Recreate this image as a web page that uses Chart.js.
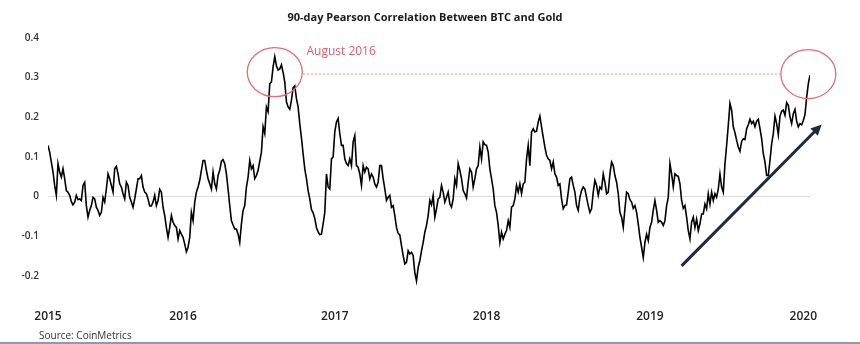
<!DOCTYPE html>
<html>
<head>
<meta charset="utf-8">
<script src="https://cdn.jsdelivr.net/npm/chart.js@4.4.1/dist/chart.umd.min.js"></script>
<style>
  html, body { margin: 0; padding: 0; background: #fff; }
  #wrap { width: 860px; height: 344px; position: relative; }
</style>
</head>
<body>
<div id="wrap"><canvas id="chart"></canvas></div>
<script>
// ─────────────────────────────────────────────
// Data (one sample ≈ every few days)
// ─────────────────────────────────────────────
const corrValues = [
  0.129,0.112,0.087,0.062,0.028,0.003,0.083,0.062,0.049,0.070,0.045,0.015,0.011,0.003,-0.013,-0.021,-0.014,0.003,-0.008,-0.006,-0.010,0.028,0.036,-0.023,-0.052,-0.035,-0.023,-0.002,-0.006,-0.027,-0.035,-0.048,-0.040,-0.002,-0.014,0.019,0.057,0.045,0.028,0.011,0.070,0.076,0.057,0.032,0.024,0.007,-0.006,0.036,0.028,-0.002,-0.014,-0.027,-0.006,0.019,0.045,0.045,
  0.053,0.024,0.011,0.007,-0.006,-0.024,-0.024,-0.014,0.003,-0.023,-0.010,0.018,0.011,-0.027,-0.048,-0.078,-0.103,-0.078,-0.048,-0.065,-0.073,-0.078,-0.107,-0.086,-0.095,-0.103,-0.120,-0.139,-0.128,-0.103,-0.040,-0.061,-0.014,0.011,0.024,0.041,0.066,0.091,0.091,0.066,0.045,0.032,0.019,0.062,0.032,0.019,0.053,0.066,0.089,0.093,0.083,0.057,0.019,-0.023,-0.061,-0.072,-0.082,
  -0.082,-0.095,-0.116,-0.069,-0.035,-0.023,0.024,0.049,0.091,0.070,0.078,0.045,0.053,0.066,0.089,0.112,0.176,0.159,0.226,0.214,0.285,0.289,0.327,0.353,0.330,0.319,0.322,0.332,0.313,0.289,0.239,0.226,0.220,0.243,0.274,0.279,0.247,0.226,0.184,0.148,0.108,0.070,0.045,0.015,-0.006,-0.033,-0.041,-0.055,-0.078,-0.089,-0.096,-0.095,-0.069,-0.040,0.057,0.024,0.019,0.095,
  0.100,0.163,0.188,0.197,0.159,0.129,0.129,0.095,0.083,0.078,0.095,0.078,0.138,0.154,0.078,0.074,0.057,0.028,0.078,0.062,0.074,0.070,0.045,0.057,0.049,0.032,0.024,0.036,0.078,0.078,0.045,0.019,-0.010,-0.002,0.003,-0.027,-0.023,-0.048,-0.078,-0.093,-0.097,-0.124,-0.149,-0.170,-0.166,-0.137,-0.145,-0.141,-0.149,-0.192,-0.213,-0.179,-0.162,-0.137,-0.116,-0.090,-0.073,
  -0.048,-0.010,-0.021,0.003,-0.052,-0.031,-0.006,-0.002,0.028,0.011,-0.014,-0.002,0.011,-0.019,-0.027,-0.006,0.045,0.028,0.083,0.066,0.045,0.015,0.007,-0.004,0.036,0.070,0.062,0.024,0.045,0.070,0.078,0.125,0.095,0.138,0.131,0.129,0.112,0.070,0.045,0.019,-0.023,-0.040,-0.073,-0.116,-0.090,-0.107,-0.095,-0.086,-0.061,-0.078,-0.027,-0.023,-0.006,0.028,0.011,0.032,0.007,0.032,
  0.036,0.095,0.129,0.078,0.163,0.171,0.163,0.165,0.188,0.203,0.176,0.150,0.125,0.104,0.095,0.091,0.070,0.087,0.057,0.049,0.028,0.032,-0.006,-0.031,-0.023,-0.021,0.011,0.045,0.049,0.028,0.011,-0.023,-0.035,-0.002,0.015,0.024,0.019,-0.002,-0.023,-0.040,-0.031,0.011,0.041,0.028,0.003,0.024,0.019,0.057,0.036,0.007,0.011,0.057,0.087,0.078,0.053,0.036,0.007,-0.040,
  -0.052,-0.078,-0.031,0.011,0.007,-0.008,-0.014,-0.030,-0.023,-0.040,-0.069,-0.103,-0.128,-0.154,-0.116,-0.095,-0.111,-0.078,-0.065,-0.035,-0.010,-0.035,-0.065,-0.061,-0.065,-0.073,-0.061,-0.023,-0.002,0.083,0.057,0.024,0.057,0.053,0.051,0.032,-0.010,-0.030,-0.023,-0.052,-0.086,-0.107,-0.065,-0.052,-0.078,-0.057,-0.086,-0.069,-0.044,-0.044,-0.019,-0.031,0.007,-0.019,0.011,-0.010,0.007,
  -0.002,0.019,0.057,0.024,0.011,0.083,0.129,0.180,0.235,0.218,0.176,0.161,0.142,0.125,0.114,0.139,0.146,0.144,0.171,0.181,0.195,0.184,0.190,0.176,0.190,0.195,0.171,0.146,0.108,0.087,0.053,0.053,0.091,0.133,0.159,0.203,0.184,0.156,0.203,0.215,0.218,0.205,0.237,0.230,0.201,0.184,0.209,0.220,0.190,0.176,0.184,0.181,0.192,0.207,0.251,0.285,0.306,
];

const yearLabels    = ['2015', '2016', '2017', '2018', '2019', '2020'];
const yearTickIndex = [0, 81, 172, 263, 361, 453];   // sample index where each year label sits
const yTicks        = [0.4, 0.3, 0.2, 0.1, 0, -0.1, -0.2];

// annotation anchors, in data units (sample index, correlation)
const aug2016Level = 0.309;
const circleMarks  = [{ x: 136, y: 0.314 }, { x: 456, y: 0.309 }];
const dashFromTo   = [153, 440];
const arrowFromTo  = [{ x: 380, y: -0.175 }, { x: 464, y: 0.182 }];

const TITLE = '90-day Pearson Correlation Between BTC and Gold';
const FONT  = "'Open Sans', 'Noto Sans', 'DejaVu Sans', sans-serif";

// ─────────────────────────────────────────────
// Annotations (title, circles, dashed level, arrow, source)
// ─────────────────────────────────────────────
const annotate = {
  id: 'annotate',
  afterDatasetsDraw(chart) {
    const { ctx, scales: { x, y } } = chart;
    ctx.save();

    // title
    ctx.fillStyle = '#1a1a1a';
    ctx.font = `700 11px ${FONT}`;
    ctx.textAlign = 'center';
    ctx.textBaseline = 'middle';
    ctx.fillText(TITLE, 425, 18);

    // dashed August 2016 level
    ctx.strokeStyle = '#f08a90';
    ctx.lineWidth = 1;
    ctx.setLineDash([2, 2]);
    ctx.beginPath();
    ctx.moveTo(x.getPixelForValue(dashFromTo[0]), y.getPixelForValue(aug2016Level));
    ctx.lineTo(x.getPixelForValue(dashFromTo[1]), y.getPixelForValue(aug2016Level));
    ctx.stroke();
    ctx.setLineDash([]);

    // circles
    ctx.strokeStyle = '#ec6a73';
    ctx.lineWidth = 1.3;
    circleMarks.forEach((c) => {
      ctx.beginPath();
      ctx.ellipse(x.getPixelForValue(c.x), y.getPixelForValue(c.y), 27.5, 24.5, 0, 0, Math.PI * 2);
      ctx.stroke();
    });

    // label
    ctx.fillStyle = '#ee5865';
    ctx.font = `500 12px ${FONT}`;
    ctx.textAlign = 'left';
    ctx.fillText('August 2016', x.getPixelForValue(155), y.getPixelForValue(0.365));

    // arrow
    const x0 = x.getPixelForValue(arrowFromTo[0].x), y0 = y.getPixelForValue(arrowFromTo[0].y);
    const x1 = x.getPixelForValue(arrowFromTo[1].x), y1 = y.getPixelForValue(arrowFromTo[1].y);
    const ang = Math.atan2(y1 - y0, x1 - x0);
    const head = 12;
    ctx.strokeStyle = '#1d2a44';
    ctx.fillStyle = '#1d2a44';
    ctx.lineWidth = 3;
    ctx.beginPath();
    ctx.moveTo(x0, y0);
    ctx.lineTo(x1 - Math.cos(ang) * head * 0.8, y1 - Math.sin(ang) * head * 0.8);
    ctx.stroke();
    ctx.beginPath();
    ctx.moveTo(x1, y1);
    ctx.lineTo(x1 - head * Math.cos(ang - 0.45), y1 - head * Math.sin(ang - 0.45));
    ctx.lineTo(x1 - head * Math.cos(ang + 0.45), y1 - head * Math.sin(ang + 0.45));
    ctx.closePath();
    ctx.fill();

    // source + bottom rule
    ctx.fillStyle = '#333';
    ctx.font = `10px ${FONT}`;
    ctx.fillText('Source: CoinMetrics', 39, 336);
    ctx.fillStyle = '#8c9bb0';
    ctx.fillRect(0, 342, chart.width, 2);

    ctx.restore();
  },
};

// ─────────────────────────────────────────────
// Chart
// ─────────────────────────────────────────────
new Chart(document.getElementById('chart'), {
  type: 'line',
  data: {
    datasets: [{
      data: corrValues.map((v, i) => ({ x: i, y: v })),
      borderColor: '#000',
      borderWidth: 1.6,
      pointRadius: 0,
      tension: 0,
    }],
  },
  options: {
    responsive: true,
    maintainAspectRatio: false,
    animation: false,
    layout: { padding: { left: 0, right: 50, top: 38, bottom: 6 } },
    plugins: {
      legend: { display: false },
      tooltip: { enabled: false },
      title: { display: false },
    },
    scales: {
      x: {
        type: 'linear',
        min: 0,
        max: corrValues.length - 1,
        afterBuildTicks: (s) => { s.ticks = yearTickIndex.map((v) => ({ value: v })); },
        ticks: {
          autoSkip: false,
          maxRotation: 0,
          padding: 14,
          color: '#222',
          font: { family: FONT, size: 12, weight: '600' },
          callback: (v) => yearLabels[yearTickIndex.indexOf(v)] ?? '',
        },
        grid: { display: false, drawTicks: false },
        border: { display: false },
      },
      y: {
        min: -0.25,
        max: 0.4,
        afterBuildTicks: (s) => { s.ticks = yTicks.map((v) => ({ value: v })); },
        afterFit: (s) => { s.width = 48; },
        ticks: {
          padding: 9,
          color: '#333',
          font: { family: FONT, size: 10, weight: '600' },
          callback: (v) => String(Math.round(v * 10) / 10),
        },
        grid: {
          drawTicks: false,
          color: (c) => (c.tick && c.tick.value === 0 ? '#dcdcdc' : 'transparent'),
          lineWidth: 1,
        },
        border: { display: false },
      },
    },
  },
  plugins: [annotate],
});
</script>
</body>
</html>
